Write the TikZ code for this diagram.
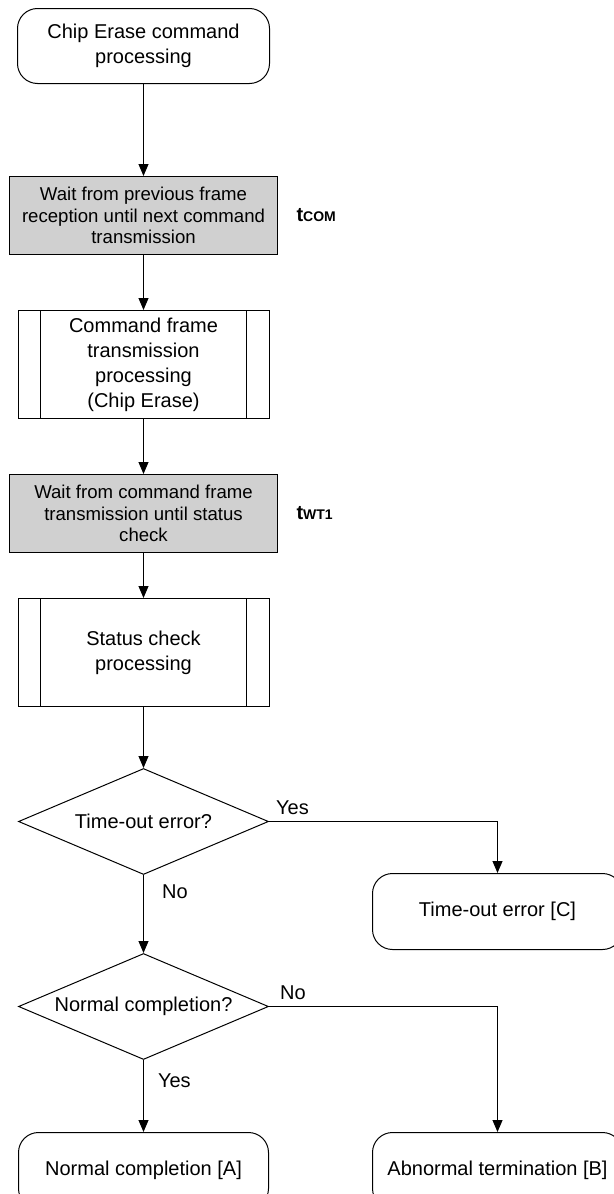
\documentclass[tikz,border=0pt]{standalone}
\usepackage{fontspec}
\setmainfont{Liberation Sans}
\usepackage{tikz}
\usetikzlibrary{positioning,arrows.meta,shapes.geometric}
\definecolor{waitgray}{HTML}{D0D0D0}

\begin{document}
\begin{tikzpicture}[node distance=27.5pt,line width=0.5pt,
    term/.style={rectangle,rounded corners=10pt,draw,
                 minimum width=125pt,minimum height=38pt,inner sep=2pt,
                 align=center,font=\fontsize{10}{12.5}\selectfont},
    waitbox/.style={rectangle,draw,fill=waitgray,
                 minimum width=134pt,minimum height=39pt,inner sep=2pt,
                 align=center,font=\fontsize{9.3}{10.8}\selectfont},
    subbox/.style={rectangle,draw,
                 minimum width=125.5pt,minimum height=54pt,inner sep=2pt,
                 align=center,font=\fontsize{10}{12.5}\selectfont},
    decision/.style={diamond,draw,aspect=2.36,
                 minimum width=125pt,minimum height=53pt,inner sep=0pt,
                 font=\fontsize{10}{12.5}\selectfont},
    lbl/.style={font=\fontsize{10}{12}\selectfont},
    tlabel/.style={inner sep=0pt,font=\fontsize{10}{12}\selectfont\bfseries},
    flow/.style={-{Triangle[length=6pt,width=5pt]}}]
  \useasboundingbox (0,0) rectangle (307pt,-597pt);

  \node[term,minimum width=126pt,minimum height=37.5pt,anchor=north] (start) at (71.75pt,-4pt)
    {Chip Erase command\\processing};
  \node[waitbox,below=46pt of start] (tcom) {Wait from previous frame\\
    reception until next command\\transmission};
  \node[subbox,below=of tcom] (cmd) {Command frame\\transmission\\processing\\(Chip Erase)};
  \node[waitbox,below=of cmd] (twt) {Wait from command frame\\
    transmission until status\\check};
  \node[subbox,below=22.5pt of twt] (stat) {Status check\\processing};
  \node[decision,below=30.5pt of stat] (tout) {Time-out error?};
  \node[decision,below=39pt of tout] (norm) {Normal completion?};
  \node[term,below=36pt of norm] (endA) {Normal completion [A]};
  \node[term,right=51.5pt of endA] (endB) {Abnormal termination [B]};
  \node[term,above=91pt of endB] (endC) {Time-out error [C]};

  % wait times
  \node[tlabel,right=9pt of tcom] (tcomlbl) {t{\fontsize{7}{8}\selectfont COM}};
  \node[tlabel,right=9pt of twt] (twtlbl) {t{\fontsize{7}{8}\selectfont WT1}};

  % side bars of the sub-process boxes
  \foreach \n in {cmd,stat} {
    \draw ([xshift=11.5pt]\n.north west) -- ([xshift=11.5pt]\n.south west);
    \draw ([xshift=-11.5pt]\n.north east) -- ([xshift=-11.5pt]\n.south east);
  }

  \draw[flow] (start) -- (tcom);
  \draw[flow] (tcom) -- (cmd);
  \draw[flow] (cmd) -- (twt);
  \draw[flow] (twt) -- (stat);
  \draw[flow] (stat) -- (tout);
  \draw[flow] (tout.south) -- node[lbl,pos=0,below right,xshift=5.7pt,yshift=-1.2pt] {No} (norm.north);
  \draw[flow] (tout.east) -- node[lbl,pos=0,above right] {Yes} +(0,0) -| (endC.north);
  \draw[flow] (norm.south) -- node[lbl,pos=0,below right,xshift=3.7pt,yshift=-3.2pt] {Yes} (endA.north);
  \draw[flow] (norm.east) -- node[lbl,pos=0,above right,xshift=2pt] {No} +(0,0) -| (endB.north);
\end{tikzpicture}
\end{document}
